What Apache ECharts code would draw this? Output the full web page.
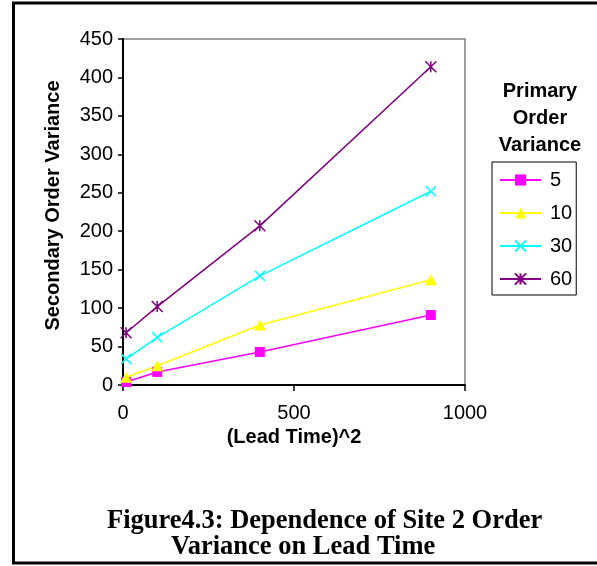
<!DOCTYPE html>
<html>
<head>
<meta charset="utf-8">
<script src="https://cdn.jsdelivr.net/npm/echarts@6/dist/echarts.min.js"></script>
<style>
html,body{margin:0;padding:0;background:#fff;}
#chart{width:597px;height:566px;}
</style>
</head>
<body>
<div id="chart"></div>
<script>
// Data
var leadTimeSquared = [9, 100, 400, 900];
var seriesNames = ['5', '10', '30', '60'];
var var5 = [4, 17, 43, 91];
var var10 = [10, 25, 78, 137];
var var30 = [34, 62, 142, 252];
var var60 = [68, 102, 207, 414];
var xTicks = [0, 500, 1000];
var yTicks = [0, 50, 100, 150, 200, 250, 300, 350, 400, 450];

function pairs(ys) { return leadTimeSquared.map(function (x, i) { return [x, ys[i]]; }); }

var chart = echarts.init(document.getElementById('chart'), null, { renderer: 'canvas' });
var font = 'Arial, "Liberation Sans", sans-serif';
var serif = '"Liberation Serif", "Times New Roman", serif';

function mk(name, vals, color, symbol, size, filled) {
  return {
    name: name, type: 'line', data: pairs(vals),
    symbol: symbol, symbolSize: size,
    lineStyle: { color: color, width: 1.5 },
    itemStyle: filled ? { color: color, borderWidth: 0 } : { color: color, borderColor: color, borderWidth: 1.5 },
    emphasis: { disabled: true },
    animation: false
  };
}

var option = {
  backgroundColor: '#fff',
  animation: false,
  textStyle: { fontFamily: font },
  title: [
    { text: 'Primary\nOrder\nVariance', left: 535, top: 73, textAlign: 'center',
      textStyle: { fontFamily: font, fontSize: 20, fontWeight: 'bold', color: '#000', lineHeight: 27 } },
    { text: 'Figure4.3: Dependence of Site 2 Order', left: 102, top: 503,
      textStyle: { fontFamily: serif, fontSize: 26.5, fontWeight: 'bold', color: '#000' } },
    { text: 'Variance on Lead Time', left: 166, top: 529,
      textStyle: { fontFamily: serif, fontSize: 26.5, fontWeight: 'bold', color: '#000' } }
  ],
  graphic: [
    { type: 'rect', shape: { x: 13.5, y: 3, width: 700, height: 560 }, style: { fill: 'none', stroke: '#000', lineWidth: 3 }, silent: true }
  ],
  legend: {
    orient: 'vertical', left: 492, top: 162,
    data: seriesNames,
    itemWidth: 41, itemHeight: 14, itemGap: 13,
    padding: [8, 4, 6, 7],
    borderColor: '#000', borderWidth: 1,
    textStyle: { fontFamily: font, fontSize: 20, color: '#000', lineHeight: 20, padding: [0, 0, 0, 4] },
    selectedMode: false
  },
  grid: { left: 123, top: 39, right: 132, bottom: 181, show: true, borderColor: '#808080', borderWidth: 1.5, backgroundColor: '#fff' },
  xAxis: {
    type: 'value', min: xTicks[0], max: xTicks[xTicks.length - 1], interval: xTicks[1] - xTicks[0],
    name: '(Lead Time)^2', nameLocation: 'middle', nameGap: 38,
    nameTextStyle: { fontFamily: font, fontSize: 20, fontWeight: 'bold', color: '#000' },
    axisLine: { show: true, onZero: false, lineStyle: { color: '#000', width: 2 } },
    axisTick: { show: true, length: 6, lineStyle: { color: '#000', width: 1.5 } },
    axisLabel: { fontFamily: font, fontSize: 20, color: '#000', margin: 18, formatter: function (v) { return String(v); } },
    splitLine: { show: false }
  },
  yAxis: {
    type: 'value', min: yTicks[0], max: yTicks[yTicks.length - 1], interval: yTicks[1] - yTicks[0],
    name: 'Secondary Order Variance', nameLocation: 'middle', nameGap: 60, nameRotate: 90,
    nameTextStyle: { fontFamily: font, fontSize: 20, fontWeight: 'bold', color: '#000', padding: [0, 0, 0, 13] },
    axisLine: { show: true, onZero: false, lineStyle: { color: '#000', width: 2 } },
    axisTick: { show: true, length: 5, lineStyle: { color: '#000', width: 1.5 } },
    axisLabel: { fontFamily: font, fontSize: 20, color: '#000', margin: 10, formatter: function (v) { return String(v); } },
    splitLine: { show: false }
  },
  series: [
    mk(seriesNames[0], var5, '#FF00FF', 'rect', 10, true),
    mk(seriesNames[1], var10, '#FFFF00', 'triangle', [12, 11], true),
    mk(seriesNames[2], var30, '#00FFFF', 'path://M0,0L10,10M10,0L0,10', 10, false),
    mk(seriesNames[3], var60, '#800080', 'path://M0,0L10,10M10,0L0,10M5,0L5,10', 11, false)
  ]
};
chart.setOption(option);
</script>
</body>
</html>
